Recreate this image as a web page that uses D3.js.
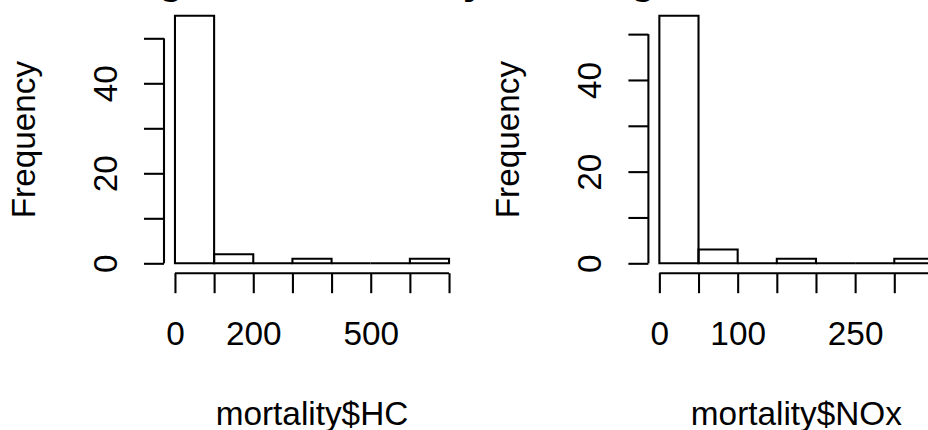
<!DOCTYPE html>
<head>
<meta charset="utf-8">
<style>
body { margin: 0; background: #fff; }
svg { display: block; overflow: hidden; }
text { font-family: "Liberation Sans", Arial, sans-serif; fill: #000; }
.bar { fill: none; stroke: #000; stroke-width: 2.08px; }
.axis path, .axis line { stroke: #000; stroke-width: 2.08px; }
</style>
</head>
<body>
<script src="https://cdn.jsdelivr.net/npm/d3@7"></script>
<script>
  // histogram data
  var hcBreaks  = [0, 100, 200, 300, 400, 500, 600, 700];
  var hcCounts  = [55, 2, 0, 1, 0, 0, 1];
  var hcTicks   = [0, 100, 200, 300, 400, 500, 600, 700];
  var hcLabels  = [0, 200, 500];

  var noxBreaks = [0, 50, 100, 150, 200, 250, 300, 350];
  var noxCounts = [54, 3, 0, 1, 0, 0, 1];
  var noxTicks  = [0, 50, 100, 150, 200, 250, 300, 350];
  var noxLabels = [0, 100, 250];

  var yTicks  = [0, 10, 20, 30, 40, 50];
  var yLabels = [0, 20, 40];

  var width = 928, height = 430;
  var fontSize = 33.33;  // 12pt at 200 dpi
  var tick = 20;         // tcl = -0.5

  var svg = d3.select("body").append("svg")
      .attr("width", width)
      .attr("height", height);

  function drawHist(offset, breaks, counts, xTicks, xLabels, title, xlab) {
    var plot = { left: 164 + offset, right: 460 + offset, top: 5.9, bottom: 273.2 };

    var b0 = breaks[0], b1 = breaks[breaks.length - 1];
    var ext = 0.04 * (b1 - b0);
    var x = d3.scaleLinear().domain([b0 - ext, b1 + ext]).range([plot.left, plot.right]);
    var yMax = d3.max(counts);
    var y = d3.scaleLinear().domain([-0.04 * yMax, 1.04 * yMax]).range([plot.bottom, plot.top]);

    var g = svg.append("g");

    // bars (as paths so empty bins still show as a line at 0)
    g.selectAll("path.bar")
      .data(counts)
      .enter().append("path")
        .attr("class", "bar")
        .attr("d", function (d, i) {
          var x0 = x(breaks[i]), x1 = x(breaks[i + 1]);
          return "M" + x0 + "," + y(0) + "H" + x1 + "V" + y(d) + "H" + x0 + "Z";
        });

    // x axis
    var xAxis = d3.axisBottom(x)
        .tickValues(xTicks)
        .tickSize(tick)
        .tickSizeOuter(0)
        .tickFormat(function (d) { return xLabels.indexOf(d) >= 0 ? d : ""; });

    var xg = g.append("g")
        .attr("class", "axis")
        .attr("transform", "translate(0," + plot.bottom + ")")
        .call(xAxis);
    xg.select(".domain")
        .attr("d", "M" + x(xTicks[0]) + ",0H" + x(xTicks[xTicks.length - 1]));
    xg.selectAll(".tick text")
        .attr("y", 72)
        .attr("dy", null)
        .style("font-size", fontSize + "px");

    // y axis
    var yAxis = d3.axisLeft(y)
        .tickValues(yTicks)
        .tickSize(tick)
        .tickSizeOuter(0)
        .tickFormat(function (d) { return yLabels.indexOf(d) >= 0 ? d : ""; });

    var yg = g.append("g")
        .attr("class", "axis")
        .attr("transform", "translate(" + plot.left + ",0)")
        .call(yAxis);
    yg.select(".domain")
        .attr("d", "M0," + y(yTicks[0]) + "V" + y(yTicks[yTicks.length - 1]));
    yg.selectAll(".tick text")
        .attr("x", null)
        .attr("dy", null)
        .attr("transform", "translate(-47,0) rotate(-90)")
        .style("text-anchor", "middle")
        .style("font-size", fontSize + "px");

    // labels
    var cx = (plot.left + plot.right) / 2;
    g.append("text")
        .attr("x", cx)
        .attr("y", -6.5)
        .style("text-anchor", "middle")
        .style("font-size", (fontSize * 1.2) + "px")
        .style("font-weight", "bold")
        .text(title);

    g.append("text")
        .attr("x", cx)
        .attr("y", 424.5)
        .style("text-anchor", "middle")
        .style("font-size", fontSize + "px")
        .text(xlab);

    g.append("text")
        .attr("transform", "translate(" + (plot.left - 129) + "," + ((plot.top + plot.bottom) / 2) + ") rotate(-90)")
        .style("text-anchor", "middle")
        .style("font-size", fontSize + "px")
        .text("Frequency");
  }

  drawHist(0, hcBreaks, hcCounts, hcTicks, hcLabels, "Histogram of mortality$HC", "mortality$HC");
  drawHist(484.4, noxBreaks, noxCounts, noxTicks, noxLabels, "Histogram of mortality$NOx", "mortality$NOx");
</script>
</body>
